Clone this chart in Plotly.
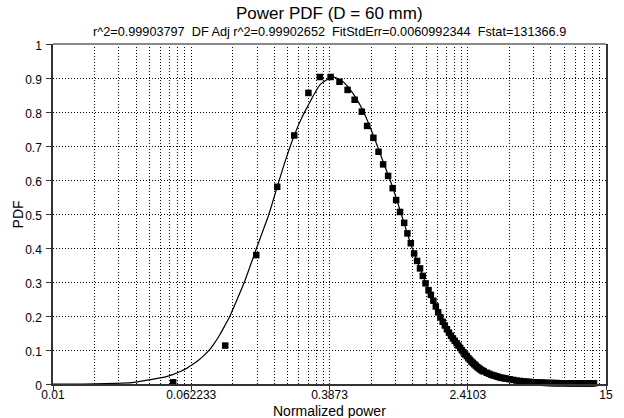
import math
import plotly.graph_objects as go

# ---- data ----
x_data = [0.049, 0.0975, 0.147, 0.194, 0.243, 0.293, 0.341, 0.393, 0.442, 0.492,
          0.540, 0.594, 0.637, 0.692, 0.741, 0.787, 0.841, 0.893, 0.935, 0.984,
          1.04, 1.085, 1.135, 1.186, 1.234, 1.282, 1.33, 1.38, 1.435,
          1.48, 1.53, 1.58, 1.63, 1.68, 1.73, 1.78, 1.83, 1.88, 1.93,
          1.98, 2.03, 2.08, 2.13, 2.18, 2.23, 2.28, 2.33, 2.38, 2.43,
          2.48, 2.53, 2.58, 2.63, 2.68, 2.73, 2.78, 2.83, 2.88, 2.93, 2.98,
          3.1, 3.2, 3.3, 3.4, 3.5, 3.6, 3.7, 3.8, 3.9, 4.0,
          4.2, 4.4, 4.6, 4.8, 5.0, 5.2, 5.4, 5.6, 5.8, 6.0, 6.2, 6.4, 6.6, 6.8, 7.0,
          7.2, 7.4, 7.6, 7.8, 8.0,
          8.3, 8.6, 8.9, 9.2, 9.5, 9.8, 10.1, 10.4, 10.7, 11.0, 11.3, 11.6, 11.9,
          12.2, 12.5, 12.8]
y_data = [0.005, 0.113, 0.379, 0.580, 0.731, 0.856, 0.903, 0.903, 0.889, 0.865,
          0.836, 0.801, 0.759, 0.724, 0.683, 0.646, 0.612, 0.576, 0.541, 0.506,
          0.474, 0.443, 0.414, 0.384, 0.362, 0.340, 0.318, 0.296, 0.276,
          0.262, 0.245, 0.228, 0.211, 0.196, 0.183, 0.172, 0.161, 0.151, 0.142,
          0.134, 0.127, 0.120, 0.113, 0.106, 0.099, 0.093, 0.087, 0.082, 0.076,
          0.071, 0.066, 0.062, 0.058, 0.054, 0.050, 0.047, 0.044, 0.041, 0.039, 0.037,
          0.033, 0.030, 0.027, 0.025, 0.023, 0.021, 0.019, 0.018, 0.017, 0.016,
          0.014, 0.012, 0.010, 0.009, 0.0078, 0.007, 0.0062, 0.0056, 0.005, 0.0046,
          0.0042, 0.0038, 0.0035, 0.0032, 0.003,
          0.003, 0.0028, 0.0026, 0.0025, 0.0024,
          0.0023, 0.0022, 0.0021, 0.002, 0.002, 0.002, 0.002, 0.002, 0.002, 0.002,
          0.002, 0.002, 0.002, 0.002, 0.002, 0.002]

x_fit = [0.01, 0.015, 0.02, 0.0284, 0.0355, 0.0442, 0.0482, 0.0535, 0.0586, 0.0622,
         0.0682, 0.0729, 0.0796, 0.0848, 0.0906, 0.0969, 0.1033, 0.1133, 0.1257, 0.1477,
         0.174, 0.194, 0.217, 0.243, 0.268, 0.293, 0.341, 0.393, 0.415, 0.463,
         0.528, 0.601, 0.685, 0.781, 0.891, 1.0, 1.13, 1.282, 1.435, 1.71,
         1.95, 2.22, 2.53, 3.01, 3.91, 5.08, 6.6, 9.0, 12.8]
y_fit = [0.0, 0.0, 0.001, 0.004, 0.012, 0.021, 0.027, 0.036, 0.046, 0.055,
         0.069, 0.082, 0.102, 0.121, 0.144, 0.171, 0.198, 0.245, 0.300, 0.400,
         0.500, 0.580, 0.660, 0.731, 0.782, 0.821, 0.880, 0.901, 0.902, 0.889,
         0.855, 0.806, 0.737, 0.659, 0.580, 0.500, 0.414, 0.340, 0.276, 0.188,
         0.139, 0.100, 0.066, 0.036, 0.017, 0.007, 0.003, 0.001, 0.0]

x_ticks = [0.01, 0.062233, 0.3873, 2.4103, 15]
x_tick_labels = ["0.01", "0.062233", "0.3873", "2.4103", "15"]

title_text = "Power PDF (D = 60 mm)"
subtitle_text = ("r^2=0.99903797\u00a0\u00a0DF Adj r^2=0.99902652\u00a0\u00a0"
                 "FitStdErr=0.0060992344\u00a0\u00a0Fstat=131366.9")

# minor grid positions: each major interval subdivided like a decade
minor_vals = []
for a, b in zip(x_ticks[:-1], x_ticks[1:]):
    for k in range(2, 10):
        minor_vals.append(a * (b / a) ** math.log10(k))

FONT = "Liberation Sans, Arial, sans-serif"
GRID_DASH = "1px,2px"

fig = go.Figure()
fig.add_trace(go.Scatter(x=x_data, y=y_data, mode="markers",
                         marker=dict(symbol="square", size=6.5, color="black",
                                     line=dict(width=0)),
                         cliponaxis=False, showlegend=False))
fig.add_trace(go.Scatter(x=x_fit, y=y_fit, mode="lines",
                         line=dict(color="black", width=1.2, shape="spline", smoothing=0.5),
                         showlegend=False))

fig.update_layout(
    width=624, height=418,
    margin=dict(l=53, r=11, t=44, b=34),
    paper_bgcolor="white", plot_bgcolor="white",
    font=dict(family=FONT, size=12, color="black"),
    xaxis=dict(type="log", range=[-2, 1.17609], tickvals=x_ticks, ticktext=x_tick_labels,
               showgrid=True, gridcolor="black", griddash=GRID_DASH, gridwidth=1,
               showline=True, linecolor="#333", linewidth=1.5, mirror=False,
               ticks="outside", ticklen=4, tickcolor="#333", ticklabelstandoff=-5,
               tickfont=dict(size=12, family=FONT),
               minor=dict(tickmode="array", tickvals=minor_vals, showgrid=True,
                          gridcolor="black", griddash=GRID_DASH, gridwidth=1, ticks=""),
               zeroline=False),
    yaxis=dict(range=[0, 1], dtick=0.1, tick0=0,
               showgrid=True, gridcolor="black", griddash=GRID_DASH, gridwidth=1,
               showline=True, linecolor="#333", linewidth=1.5, mirror=True,
               ticks="outside", ticklen=5, tickcolor="#333",
               ticklabelshift=2, ticklabelstandoff=2,
               tickfont=dict(size=12, family=FONT), zeroline=False),
    shapes=[dict(type="line", xref="paper", yref="paper", x0=0, x1=1, y0=1, y1=1,
                 line=dict(color="#888888", width=2), layer="above")],
    annotations=[
        dict(text=title_text, x=0.5, y=1 + 31 / 340, xref="paper", yref="paper",
             showarrow=False, font=dict(size=17, family=FONT), yanchor="middle"),
        dict(text=subtitle_text, x=0.5, y=1 + 11.5 / 340, xref="paper", yref="paper",
             showarrow=False, font=dict(size=12.7, family=FONT), yanchor="middle"),
        dict(text="Normalized power", x=0.5, y=-27 / 340, xref="paper", yref="paper",
             showarrow=False, font=dict(size=14, family=FONT), yanchor="middle"),
        dict(text="PDF", x=-35 / 560, y=0.5, xref="paper", yref="paper", textangle=-90,
             showarrow=False, font=dict(size=14, family=FONT), xanchor="center",
             yanchor="middle"),
    ],
)

fig.write_html("out.html")
